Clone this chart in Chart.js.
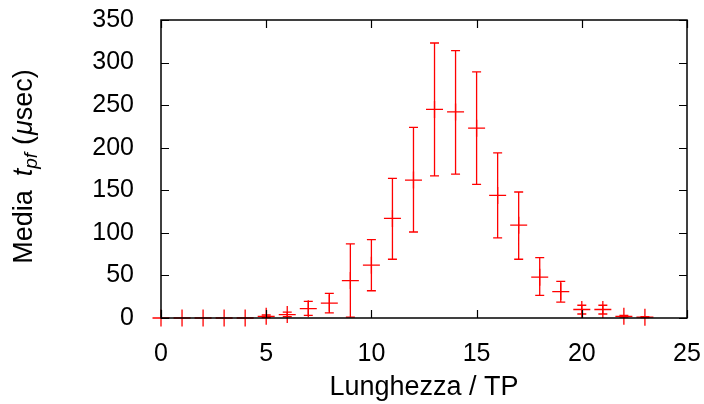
<!DOCTYPE html>
<html><head><meta charset="utf-8">
<script src="https://cdn.jsdelivr.net/npm/chart.js@4/dist/chart.umd.min.js"></script>
<style>html,body{margin:0;padding:0;background:#fff;overflow:hidden}</style>
</head><body>
<canvas id="c" width="704" height="404"></canvas>
<script>
// ---- data ----
const lengths = [0,1,2,3,4,5,6,7,8,9,10,11,12,13,14,15,16,17,18,19,20,21,22,23];
const means   = [0,0,0,0,0,2,4,11,17.5,44,62,117,162,245,242,223,144,109,48,31,10,10,2,1];
const lows    = [0,0,0,0,0,0.5,1.5,3,6,1,32,69,101,167,169,157,94,69,26.5,18.7,4.7,4.7,1,0.5];
const highs   = [0,0,0,0,0,3.5,7,19.5,29,87,92,164,224,323,314,289,194,148,71,43,15,15,3,1.5];
const xTicks = [0,5,10,15,20,25];
const yTicks = [0,50,100,150,200,250,300,350];
const xTitle = 'Lunghezza / TP';

const FONT = 'Liberation Sans';
const FS = 25;      // tick labels
const FT = 27;      // axis titles
const RED = '#ff0000';

const framePlugin = {
  id: 'frame',
  afterDatasetsDraw(chart) {
    const {ctx, chartArea: a, scales: {x, y}} = chart;
    ctx.save();
    ctx.strokeStyle = '#000';
    ctx.lineWidth = 1.5;
    ctx.strokeRect(a.left, a.top, a.right - a.left, a.bottom - a.top);
    ctx.lineWidth = 1.2;
    const tl = 8;
    ctx.beginPath();
    xTicks.forEach(v => {
      const px = Math.round(x.getPixelForValue(v)) + 0.5;
      ctx.moveTo(px, a.bottom); ctx.lineTo(px, a.bottom - tl);
      ctx.moveTo(px, a.top); ctx.lineTo(px, a.top + tl);
    });
    yTicks.forEach(v => {
      const py = Math.round(y.getPixelForValue(v)) + 0.5;
      ctx.moveTo(a.left, py); ctx.lineTo(a.left + tl, py);
      ctx.moveTo(a.right, py); ctx.lineTo(a.right - tl, py);
    });
    ctx.stroke();
    ctx.restore();
  }
};

const errPlugin = {
  id: 'errbars',
  beforeDatasetsDraw(chart) {
    const {ctx, scales: {x, y}} = chart;
    ctx.save();
    ctx.strokeStyle = RED;
    ctx.lineWidth = 1.3;
    ctx.beginPath();
    lengths.forEach((l, i) => {
      if (highs[i] - lows[i] <= 0) return;
      const px = x.getPixelForValue(l);
      const yl = y.getPixelForValue(lows[i]);
      const yh = y.getPixelForValue(highs[i]);
      ctx.moveTo(px, yl); ctx.lineTo(px, yh);
      ctx.moveTo(px - 4.5, yl); ctx.lineTo(px + 4.5, yl);
      ctx.moveTo(px - 4.5, yh); ctx.lineTo(px + 4.5, yh);
    });
    ctx.stroke();
    ctx.restore();
  }
};

const yTitlePlugin = {
  id: 'ytitle',
  afterDraw(chart) {
    const {ctx} = chart;
    const parts = [
      {t: 'Media', f: `normal ${FT}px ${FONT}`, dy: 0, gap: 14},
      {t: 't', f: `italic ${FT}px ${FONT}`, dy: 0, gap: 0},
      {t: 'pf', f: `italic ${Math.round(FT*0.72)}px ${FONT}`, dy: 5, gap: 8},
      {t: '(', f: `normal ${FT}px ${FONT}`, dy: 0, gap: 1},
      {t: '\u03BC', f: `italic ${FT}px ${FONT}`, dy: 0, gap: 0},
      {t: 'sec)', f: `normal ${FT}px ${FONT}`, dy: 0, gap: 0}
    ];
    ctx.save();
    let total = 0;
    parts.forEach(p => { ctx.font = p.f; p.w = ctx.measureText(p.t).width; total += p.w + p.gap; });
    total -= parts[parts.length - 1].gap;
    ctx.translate(32, 166.5);
    ctx.rotate(-Math.PI / 2);
    ctx.fillStyle = '#000';
    ctx.textBaseline = 'alphabetic';
    let cx = -total / 2;
    parts.forEach(p => { ctx.font = p.f; ctx.fillText(p.t, cx, p.dy); cx += p.w + p.gap; });
    ctx.restore();
  }
};

new Chart(document.getElementById('c'), {
  type: 'scatter',
  data: {
    datasets: [{
      data: lengths.map((l, i) => ({x: l, y: means[i]})),
      pointStyle: 'cross',
      radius: 8.5,
      hoverRadius: 8.5,
      borderColor: RED,
      backgroundColor: RED,
      borderWidth: 1.3,
      clip: false
    }]
  },
  options: {
    responsive: false,
    animation: false,
    devicePixelRatio: 1,
    layout: {autoPadding: false, padding: {left: 0, right: 17, top: 20, bottom: 0}},
    plugins: {legend: {display: false}, tooltip: {enabled: false}},
    scales: {
      x: {
        type: 'linear', min: 0, max: 25,
        afterBuildTicks: s => { s.ticks = xTicks.map(v => ({value: v})); },
        afterFit: s => { s.height = 86; s.paddingLeft = 0; s.paddingRight = 0; },
        grid: {display: false}, border: {display: false},
        ticks: {font: {family: FONT, size: FS}, color: '#000', padding: 13, maxRotation: 0},
        title: {display: true, text: xTitle, font: {family: FONT, size: FT}, color: '#000', padding: {top: 0, bottom: 0.5}}
      },
      y: {
        type: 'linear', min: 0, max: 350,
        afterBuildTicks: s => { s.ticks = yTicks.map(v => ({value: v})); },
        afterFit: s => { s.width = 161; s.paddingTop = 0; s.paddingBottom = 0; },
        grid: {display: false}, border: {display: false},
        ticks: {font: {family: FONT, size: FS}, color: '#000', padding: 19}
      }
    }
  },
  plugins: [errPlugin, framePlugin, yTitlePlugin]
});
</script>
</body></html>
